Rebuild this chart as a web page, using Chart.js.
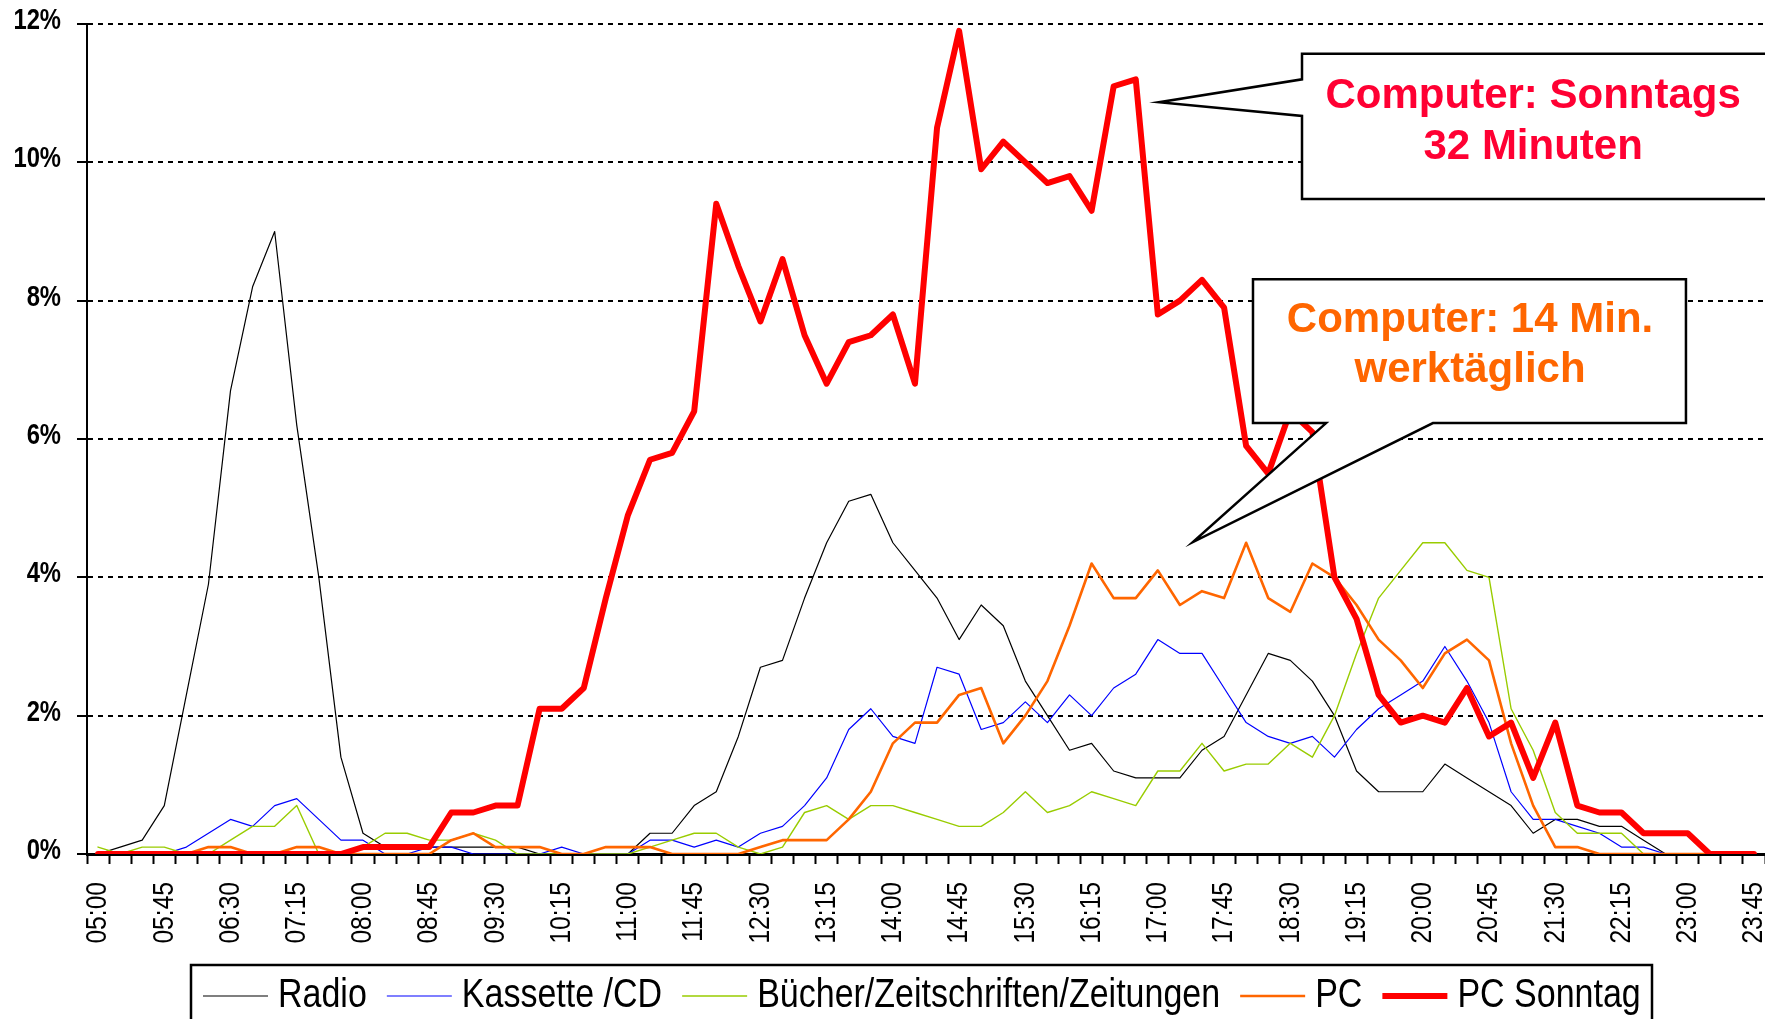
<!DOCTYPE html>
<html>
<head>
<meta charset="utf-8">
<script src="https://cdn.jsdelivr.net/npm/chart.js@4.4.0/dist/chart.umd.min.js"></script>
<style>
  html, body { margin: 0; padding: 0; background: #fff; }
  #wrap { width: 1765px; height: 1019px; position: relative; }
</style>
</head>
<body>
<div id="wrap"><canvas id="chart"></canvas></div>
<script>
// Uhrzeiten (Viertelstunden)
const zeiten = [
  '05:00','05:15','05:30','05:45','06:00','06:15','06:30','06:45','07:00','07:15',
  '07:30','07:45','08:00','08:15','08:30','08:45','09:00','09:15','09:30','09:45',
  '10:00','10:15','10:30','10:45','11:00','11:15','11:30','11:45','12:00','12:15',
  '12:30','12:45','13:00','13:15','13:30','13:45','14:00','14:15','14:30','14:45',
  '15:00','15:15','15:30','15:45','16:00','16:15','16:30','16:45','17:00','17:15',
  '17:30','17:45','18:00','18:15','18:30','18:45','19:00','19:15','19:30','19:45',
  '20:00','20:15','20:30','20:45','21:00','21:15','21:30','21:45','22:00','22:15',
  '22:30','22:45','23:00','23:15','23:30','23:45'
];

// Werte in Prozent
const radio = [
  0, 0.1, 0.2, 0.7, 2.3, 3.9, 6.7, 8.2, 9.0, 6.2,
  4.0, 1.4, 0.3, 0.1, 0.1, 0.1, 0.1, 0.1, 0.1, 0.1,
  0, 0, 0, 0, 0, 0.3, 0.3, 0.7, 0.9, 1.7,
  2.7, 2.8, 3.7, 4.5, 5.1, 5.2, 4.5, 4.1, 3.7, 3.1,
  3.6, 3.3, 2.5, 2.0, 1.5, 1.6, 1.2, 1.1, 1.1, 1.1,
  1.5, 1.7, 2.3, 2.9, 2.8, 2.5, 2.0, 1.2, 0.9, 0.9,
  0.9, 1.3, 1.1, 0.9, 0.7, 0.3, 0.5, 0.5, 0.4, 0.4,
  0.2, 0, 0, 0, 0, 0
];
const kassette = [
  0, 0, 0, 0, 0.1, 0.3, 0.5, 0.4, 0.7, 0.8,
  0.5, 0.2, 0.2, 0, 0, 0.1, 0.1, 0, 0, 0,
  0, 0.1, 0, 0, 0, 0.2, 0.2, 0.1, 0.2, 0.1,
  0.3, 0.4, 0.7, 1.1, 1.8, 2.1, 1.7, 1.6, 2.7, 2.6,
  1.8, 1.9, 2.2, 1.9, 2.3, 2.0, 2.4, 2.6, 3.1, 2.9,
  2.9, 2.4, 1.9, 1.7, 1.6, 1.7, 1.4, 1.8, 2.1, 2.3,
  2.5, 3.0, 2.5, 1.9, 0.9, 0.5, 0.5, 0.4, 0.3, 0.1,
  0.1, 0, 0, 0, 0, 0
];
const buecher = [
  0.1, 0, 0.1, 0.1, 0, 0, 0.2, 0.4, 0.4, 0.7,
  0, 0, 0.1, 0.3, 0.3, 0.2, 0.2, 0.3, 0.2, 0,
  0, 0, 0, 0, 0, 0.1, 0.2, 0.3, 0.3, 0.1,
  0, 0.1, 0.6, 0.7, 0.5, 0.7, 0.7, 0.6, 0.5, 0.4,
  0.4, 0.6, 0.9, 0.6, 0.7, 0.9, 0.8, 0.7, 1.2, 1.2,
  1.6, 1.2, 1.3, 1.3, 1.6, 1.4, 2.0, 2.9, 3.7, 4.1,
  4.5, 4.5, 4.1, 4.0, 2.1, 1.5, 0.6, 0.3, 0.3, 0.3,
  0, 0, 0, 0, 0, 0
];
const pc = [
  0, 0, 0, 0, 0, 0.1, 0.1, 0, 0, 0.1,
  0.1, 0, 0, 0, 0, 0, 0.2, 0.3, 0.1, 0.1,
  0.1, 0, 0, 0.1, 0.1, 0.1, 0, 0, 0, 0,
  0.1, 0.2, 0.2, 0.2, 0.5, 0.9, 1.6, 1.9, 1.9, 2.3,
  2.4, 1.6, 2.0, 2.5, 3.3, 4.2, 3.7, 3.7, 4.1, 3.6,
  3.8, 3.7, 4.5, 3.7, 3.5, 4.2, 4.0, 3.6, 3.1, 2.8,
  2.4, 2.9, 3.1, 2.8, 1.6, 0.7, 0.1, 0.1, 0, 0,
  0, 0, 0, 0, 0, 0
];
const pcSonntag = [
  0, 0, 0, 0, 0, 0, 0, 0, 0, 0,
  0, 0, 0.1, 0.1, 0.1, 0.1, 0.6, 0.6, 0.7, 0.7,
  2.1, 2.1, 2.4, 3.7, 4.9, 5.7, 5.8, 6.4, 9.4, 8.5,
  7.7, 8.6, 7.5, 6.8, 7.4, 7.5, 7.8, 6.8, 10.5, 11.9,
  9.9, 10.3, 10.0, 9.7, 9.8, 9.3, 11.1, 11.2, 7.8, 8.0,
  8.3, 7.9, 5.9, 5.5, 6.4, 6.1, 4.0, 3.4, 2.3, 1.9,
  2.0, 1.9, 2.4, 1.7, 1.9, 1.1, 1.9, 0.7, 0.6, 0.6,
  0.3, 0.3, 0.3, 0, 0, 0
];

const SANS = '"Liberation Sans", Arial, sans-serif';
// keine Narrow-Schrift installiert -> horizontal stauchen
const STAUCHUNG = 0.82;

// Achsenbeschriftungen (schmal)
const achsenText = {
  id: 'achsenText',
  afterDraw(chart) {
    const { ctx, scales: { x, y } } = chart;
    ctx.save();
    ctx.fillStyle = '#000';
    ctx.textAlign = 'right';
    ctx.textBaseline = 'middle';

    ctx.font = '30px ' + SANS;
    zeiten.forEach((z, i) => {
      if (i % 3 !== 0) return;
      ctx.save();
      ctx.translate(x.getPixelForValue(i), x.top + 28);
      ctx.rotate(-Math.PI / 2);
      ctx.scale(STAUCHUNG, 1);
      ctx.fillText(z, 0, 0);
      ctx.restore();
    });

    ctx.font = 'bold 29px ' + SANS;
    y.ticks.forEach(t => {
      ctx.save();
      ctx.translate(61, y.getPixelForValue(t.value) - 3);
      ctx.scale(STAUCHUNG, 1);
      ctx.fillText(t.value + '%', 0, 0);
      ctx.restore();
    });
    ctx.restore();
  }
};

// Sprechblasen
const sprechblasen = {
  id: 'sprechblasen',
  afterDraw(chart) {
    const { ctx, scales: { x, y } } = chart;
    const X = i => x.getPixelForValue(i);
    const Y = v => y.getPixelForValue(v);

    ctx.save();
    ctx.lineWidth = 2.5;
    ctx.strokeStyle = '#000';
    ctx.fillStyle = '#fff';
    ctx.lineJoin = 'miter';

    // Sonntag
    ctx.beginPath();
    ctx.moveTo(X(54.53), Y(11.57));
    ctx.lineTo(X(76), Y(11.57));
    ctx.lineTo(X(76), Y(9.47));
    ctx.lineTo(X(54.53), Y(9.47));
    ctx.lineTo(X(54.53), Y(10.67));
    ctx.lineTo(X(48.05), Y(10.87));
    ctx.lineTo(X(54.53), Y(11.20));
    ctx.closePath();
    ctx.fill();
    ctx.stroke();

    // werktags
    ctx.beginPath();
    ctx.moveTo(X(52.31), Y(8.31));
    ctx.lineTo(X(71.92), Y(8.31));
    ctx.lineTo(X(71.92), Y(6.23));
    ctx.lineTo(X(60.46), Y(6.23));
    ctx.lineTo(X(49.59), Y(4.51));
    ctx.lineTo(X(55.62), Y(6.23));
    ctx.lineTo(X(52.31), Y(6.23));
    ctx.closePath();
    ctx.fill();
    ctx.stroke();

    ctx.font = 'bold 42px ' + SANS;
    ctx.textAlign = 'center';
    ctx.textBaseline = 'alphabetic';
    ctx.fillStyle = '#ff0033';
    ctx.fillText('Computer: Sonntags', X(65.0), Y(10.79));
    ctx.fillText('32 Minuten', X(65.0), Y(10.05));
    ctx.fillStyle = '#ff6600';
    ctx.fillText('Computer: 14 Min.', X(62.14), Y(7.55));
    ctx.fillText('werktäglich', X(62.14), Y(6.82));
    ctx.restore();
  }
};

// Legende mit Rahmen
const legendeRahmen = {
  id: 'legendeRahmen',
  afterDraw(chart) {
    const ctx = chart.ctx;
    const cy = 996;
    const sx = 0.85;
    ctx.save();
    ctx.lineWidth = 2.5;
    ctx.strokeStyle = '#000';
    ctx.strokeRect(191, 965, 1652 - 191, 120);

    ctx.font = '40px ' + SANS;
    ctx.textBaseline = 'middle';
    ctx.textAlign = 'left';
    let px = 203;
    chart.data.datasets.forEach(ds => {
      ctx.beginPath();
      ctx.strokeStyle = ds.borderColor;
      ctx.lineWidth = ds.borderWidth;
      ctx.moveTo(px, cy);
      ctx.lineTo(px + 65, cy);
      ctx.stroke();
      px += 75;
      ctx.save();
      ctx.translate(px, cy);
      ctx.scale(sx, 1);
      ctx.fillStyle = '#000';
      ctx.fillText(ds.label, 0, 0);
      ctx.restore();
      px += ctx.measureText(ds.label).width * sx + 20;
    });
    ctx.restore();
  }
};

const datasets = [
  { label: 'Radio', data: radio, borderColor: '#000000', borderWidth: 1.2, order: 5 },
  { label: 'Kassette /CD', data: kassette, borderColor: '#0000ff', borderWidth: 1.2, order: 4 },
  { label: 'Bücher/Zeitschriften/Zeitungen', data: buecher, borderColor: '#99cc00', borderWidth: 1.4, order: 3 },
  { label: 'PC', data: pc, borderColor: '#ff6600', borderWidth: 2.6, order: 2 },
  { label: 'PC Sonntag', data: pcSonntag, borderColor: '#ff0000', borderWidth: 6, order: 1 }
].map(ds => ({
  ...ds,
  pointRadius: 0,
  tension: 0,
  fill: false,
  borderJoinStyle: 'round',
  borderCapStyle: 'round'
}));

new Chart(document.getElementById('chart'), {
  type: 'line',
  data: { labels: zeiten, datasets: datasets },
  options: {
    responsive: true,
    maintainAspectRatio: false,
    animation: false,
    layout: { padding: { top: 24, right: 0, bottom: 0, left: 0 } },
    plugins: {
      legend: { display: false },
      tooltip: { enabled: false }
    },
    scales: {
      x: {
        offset: true,
        grid: {
          offset: true,
          drawOnChartArea: false,
          drawTicks: true,
          tickLength: 10,
          tickWidth: 2,
          tickColor: '#000'
        },
        border: { display: true, color: '#000', width: 3 },
        ticks: { display: false, autoSkip: false },
        afterFit: (s) => { s.height = 165; s.paddingLeft = 0; s.paddingRight = 0; }
      },
      y: {
        min: 0,
        max: 12,
        ticks: { display: false, stepSize: 2 },
        grid: {
          color: '#000',
          lineWidth: 2,
          tickLength: 10,
          tickWidth: 2,
          tickColor: '#000',
          tickBorderDash: []
        },
        border: { display: true, color: '#000', width: 2, dash: [5, 5] },
        afterFit: (s) => { s.width = 87; s.paddingTop = 0; s.paddingBottom = 0; }
      }
    }
  },
  plugins: [achsenText, sprechblasen, legendeRahmen]
});
</script>
</body>
</html>
